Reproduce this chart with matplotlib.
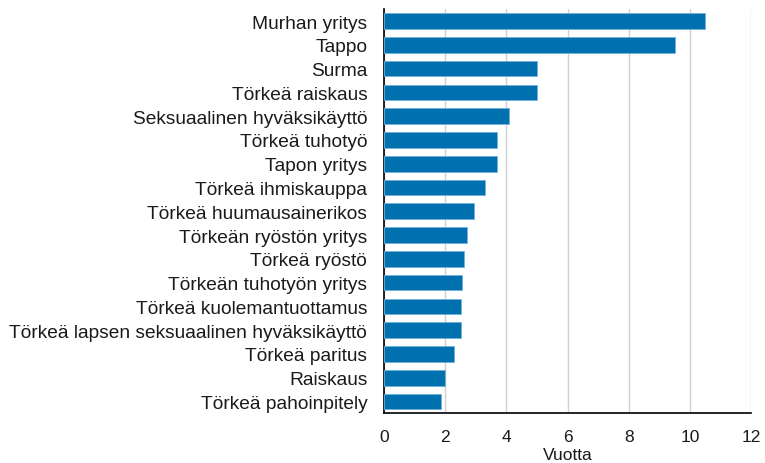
import matplotlib
matplotlib.use("Agg")
import matplotlib.pyplot as plt

categories = [
    "Murhan yritys", "Tappo", "Surma", "Törkeä raiskaus",
    "Seksuaalinen hyväksikäyttö", "Törkeä tuhotyö", "Tapon yritys",
    "Törkeä ihmiskauppa", "Törkeä huumausainerikos", "Törkeän ryöstön yritys",
    "Törkeä ryöstö", "Törkeän tuhotyön yritys", "Törkeä kuolemantuottamus",
    "Törkeä lapsen seksuaalinen hyväksikäyttö", "Törkeä paritus", "Raiskaus",
    "Törkeä pahoinpitely",
]
values = [10.5, 9.5, 5.0, 5.0, 4.1, 3.7, 3.7, 3.3, 2.95, 2.7, 2.6, 2.55,
          2.5, 2.5, 2.3, 2.0, 1.85]
xticks = [0, 2, 4, 6, 8, 10, 12]

plt.rcParams['font.family'] = ['Liberation Sans', 'DejaVu Sans']

fig = plt.figure(figsize=(7.65, 4.64), dpi=100)
ax = fig.add_axes([0.502, 0.107, 0.48, 0.871])

ypos = list(range(len(categories)))
ax.barh(ypos, values, height=0.66, color='#0070ae', edgecolor='#6fb3dc',
        linewidth=0.6, zorder=3)
ax.set_yticks(ypos)
ax.set_yticklabels(categories, fontsize=13.8, color='#1a1a1a')
ax.set_ylim(len(categories) - 0.5, -0.5)
ax.set_xlim(0, 12)
ax.set_xticks(xticks)
ax.set_xticklabels([str(t) for t in xticks], fontsize=12.5, color='#1a1a1a')
ax.set_xlabel("Vuotta", fontsize=12.5, labelpad=2.5, color='#1a1a1a')
ax.tick_params(axis='x', length=0, pad=11)
ax.tick_params(axis='y', length=0, pad=12)
ax.xaxis.grid(True, color='#d0d0d0', linewidth=1.0, zorder=0)
ax.set_axisbelow(True)
for s in ['top', 'right']:
    ax.spines[s].set_visible(False)
ax.spines['left'].set_color('#000000')
ax.spines['bottom'].set_color('#000000')
ax.spines['left'].set_linewidth(1.2)
ax.spines['bottom'].set_linewidth(1.2)

fig.savefig("out.png", dpi=100)
